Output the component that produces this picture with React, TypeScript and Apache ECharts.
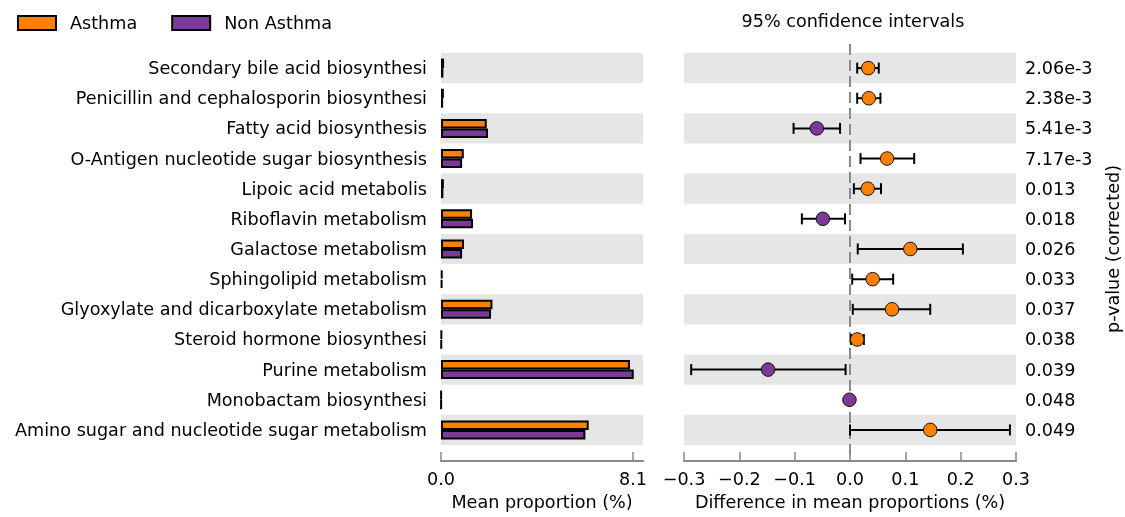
import React, { useEffect, useRef } from "react";
import * as echarts from "echarts";

const categories = [
  "Secondary bile acid biosynthesi",
  "Penicillin and cephalosporin biosynthesi",
  "Fatty acid biosynthesis",
  "O-Antigen nucleotide sugar biosynthesis",
  "Lipoic acid metabolis",
  "Riboflavin metabolism",
  "Galactose metabolism",
  "Sphingolipid metabolism",
  "Glyoxylate and dicarboxylate metabolism",
  "Steroid hormone biosynthesi",
  "Purine metabolism",
  "Monobactam biosynthesi",
  "Amino sugar and nucleotide sugar metabolism",
];
const asthma = [0.13, 0.12, 1.93, 0.96, 0.12, 1.31, 0.97, 0.06, 2.17, 0.03, 7.97, 0.01, 6.23];
const nonAsthma = [0.1, 0.09, 1.98, 0.89, 0.1, 1.35, 0.89, 0.05, 2.11, 0.02, 8.13, 0.01, 6.09];
const diff = [0.033, 0.034, -0.06, 0.067, 0.032, -0.049, 0.109, 0.041, 0.076, 0.013, -0.148, -0.001, 0.145];
const ciLow = [0.013, 0.013, -0.102, 0.019, 0.007, -0.087, 0.014, 0.004, 0.005, 0.002, -0.287, -0.002, 0.0];
const ciHigh = [0.052, 0.055, -0.018, 0.116, 0.056, -0.009, 0.204, 0.078, 0.145, 0.025, -0.008, 0.0, 0.289];
const pValues = ["2.06e-3", "2.38e-3", "5.41e-3", "7.17e-3", "0.013", "0.018", "0.026", "0.033", "0.037", "0.038", "0.039", "0.048", "0.049"];
const meanTicks = [0, 8.1];
const groupNames = ["Asthma", "Non Asthma"];

const ORANGE = "#ff7f00";
const PURPLE = "#7b3a96";
const FONT = "DejaVu Sans";
const FS = 17.6;
const AXIS_GRAY = "#8a8a8a";
const BAND = "#e6e6e6";

export default function App() {
  const ref = useRef<HTMLDivElement>(null);
  useEffect(() => {
    if (!ref.current) return;
    const chart = echarts.init(ref.current, null, { renderer: "svg" });
    const fmtDiff = (v: number) => {
      const s = Math.abs(v) < 1e-9 ? "0.0" : Math.abs(v).toFixed(1);
      return v < -1e-9 ? "\u2212" + s : s;
    };
    const option: any = {
      animation: false,
      textStyle: { fontFamily: FONT },
      title: {
        text: "95% confidence intervals",
        left: 848,
        top: 7,
        textAlign: "center",
        textStyle: { fontFamily: FONT, fontSize: FS, fontWeight: "normal", color: "#000" },
      },
      legend: {
        left: 17,
        top: 14,
        padding: 0,
        icon: "rect",
        itemWidth: 38,
        itemHeight: 14,
        itemGap: 34,
        data: groupNames,
        textStyle: { fontFamily: FONT, fontSize: FS, color: "#000", padding: [0, 0, 0, 9] },
      },
      grid: [
        { left: 441, top: 53, width: 202, height: 392 },
        { left: 684, top: 53, width: 332, height: 392 },
        { left: 684, top: 42, width: 332, height: 413 },
      ],
      xAxis: [
        {
          gridIndex: 0,
          type: "value",
          min: 0,
          max: 8.52,
          offset: 16,
          name: "Mean proportion (%)",
          nameLocation: "middle",
          nameGap: 30,
          nameTextStyle: { fontFamily: FONT, fontSize: FS, color: "#000" },
          axisLine: { show: true, lineStyle: { color: AXIS_GRAY, width: 2 } },
          axisTick: { show: true, inside: true, length: 9, customValues: meanTicks, lineStyle: { color: AXIS_GRAY, width: 1.5 } },
          axisLabel: {
            customValues: meanTicks,
            fontFamily: FONT,
            fontSize: FS,
            color: "#000",
            margin: 9,
            formatter: (v: number) => v.toFixed(1),
          },
          splitLine: { show: false },
        },
        {
          gridIndex: 1,
          type: "value",
          min: -0.3,
          max: 0.3,
          interval: 0.1,
          offset: 16,
          name: "Difference in mean proportions (%)",
          nameLocation: "middle",
          nameGap: 30,
          nameTextStyle: { fontFamily: FONT, fontSize: FS, color: "#000" },
          axisLine: { show: true, lineStyle: { color: AXIS_GRAY, width: 2 } },
          axisTick: { show: true, inside: true, length: 9, lineStyle: { color: AXIS_GRAY, width: 1.5 } },
          axisLabel: { fontFamily: FONT, fontSize: FS, color: "#000", margin: 9, formatter: fmtDiff },
          splitLine: { show: false },
        },
        {
          gridIndex: 2,
          type: "value",
          min: -0.3,
          max: 0.3,
          show: false,
        },
      ],
      yAxis: [
        {
          gridIndex: 0,
          type: "category",
          data: categories,
          inverse: true,
          axisLine: { show: false },
          axisTick: { show: false },
          axisLabel: { fontFamily: FONT, fontSize: FS, color: "#000", margin: 14 },
          splitArea: { show: true, areaStyle: { color: [BAND, "rgba(255,255,255,0)"] } },
        },
        {
          gridIndex: 1,
          type: "category",
          data: categories,
          inverse: true,
          position: "right",
          name: "p-value (corrected)",
          nameLocation: "middle",
          nameRotate: 90,
          nameGap: 88,
          nameTextStyle: { fontFamily: FONT, fontSize: FS, color: "#000" },
          axisLine: { show: false },
          axisTick: { show: false },
          axisLabel: {
            fontFamily: FONT,
            fontSize: FS,
            color: "#000",
            margin: 9,
            formatter: (_v: string, i: number) => pValues[i],
          },
          splitArea: { show: true, areaStyle: { color: [BAND, "rgba(255,255,255,0)"] } },
        },
        {
          gridIndex: 2,
          type: "value",
          min: 0,
          max: 1,
          show: false,
        },
      ],
      series: [
        {
          name: groupNames[0],
          type: "bar",
          xAxisIndex: 0,
          yAxisIndex: 0,
          data: asthma,
          barWidth: 9.5,
          barGap: "0%",
          itemStyle: { color: ORANGE, borderColor: "#000", borderWidth: 2 },
        },
        {
          name: groupNames[1],
          type: "bar",
          xAxisIndex: 0,
          yAxisIndex: 0,
          data: nonAsthma,
          barWidth: 9.5,
          barGap: "0%",
          itemStyle: { color: PURPLE, borderColor: "#000", borderWidth: 2 },
        },
        {
          type: "line",
          xAxisIndex: 2,
          yAxisIndex: 2,
          data: [
            [0, 0],
            [0, 1],
          ],
          symbol: "none",
          silent: true,
          lineStyle: { color: AXIS_GRAY, width: 2, type: [11, 5] },
          z: 1,
        },
        {
          type: "custom",
          xAxisIndex: 1,
          yAxisIndex: 1,
          data: categories.map((c, i) => [ciLow[i], ciHigh[i], i]),
          encode: { x: [0, 1], y: 2 },
          renderItem: (params: any, api: any) => {
            const y = api.value(2);
            const lo = api.coord([api.value(0), y]);
            const hi = api.coord([api.value(1), y]);
            const cap = 5.5;
            const st = { stroke: "#000", lineWidth: 2 };
            return {
              type: "group",
              children: [
                { type: "line", shape: { x1: lo[0], y1: lo[1], x2: hi[0], y2: hi[1] }, style: st },
                { type: "line", shape: { x1: lo[0], y1: lo[1] - cap, x2: lo[0], y2: lo[1] + cap }, style: st },
                { type: "line", shape: { x1: hi[0], y1: hi[1] - cap, x2: hi[0], y2: hi[1] + cap }, style: st },
              ],
            };
          },
          z: 3,
        },
        {
          type: "scatter",
          xAxisIndex: 1,
          yAxisIndex: 1,
          symbol: "circle",
          symbolSize: 13.5,
          data: categories.map((c, i) => ({
            value: [diff[i], i],
            itemStyle: { color: diff[i] > 0 ? ORANGE : PURPLE },
          })),
          itemStyle: { borderColor: "#111", borderWidth: 1, opacity: 1 },
          z: 4,
        },
      ],
    };
    chart.setOption(option);
    return () => chart.dispose();
  }, []);
  return <div ref={ref} style={{ position: "fixed", left: 0, top: 0, width: 1125, height: 517 }} />;
}
